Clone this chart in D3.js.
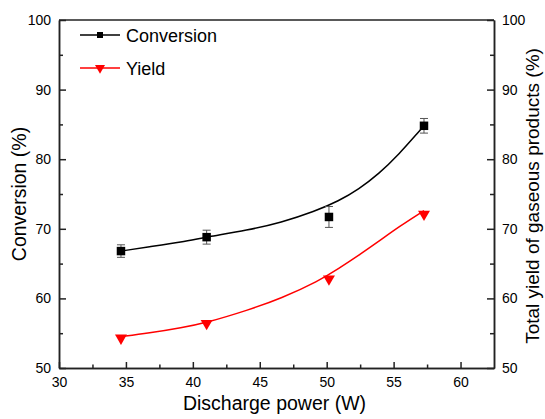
<html lang="en">
<head>
  <meta http-equiv="Content-Type" content="text/html; charset=utf-8" />
  <script src="https://cdn.jsdelivr.net/npm/d3@7"></script>
  <style>
    body { margin: 0; background: #fff; }
    text { font-family: "Liberation Sans", Arial, sans-serif; fill: #000; }
  </style>
</head>
<body>
  <div id="chart"></div>
  <script>
    'use strict';
    // measured points
    const power = [34.63, 41.03, 50.17, 57.27];
    const conversion = [66.8, 68.8, 71.7, 84.8];
    const conversionErr = [0.9, 1.0, 1.5, 1.05];
    const yieldGas = [54.3, 56.4, 62.8, 72.1];

    // fitted curves
    const convFitX = [34.63, 36.7, 39.2, 41.0, 44.1, 46.6, 49.1, 50.9, 52.4, 53.9, 55.4, 56.9, 57.27];
    const convFitY = [66.8, 67.4, 68.1, 68.8, 69.8, 70.9, 72.5, 74.0, 75.7, 77.9, 80.7, 84.0, 84.8];
    const yieldFitX = [34.63, 36.7, 39.2, 41.0, 44.1, 46.6, 49.4, 50.9, 52.4, 53.9, 55.4, 57.27];
    const yieldFitY = [54.5, 55.0, 55.8, 56.5, 58.3, 60.0, 62.5, 64.3, 66.2, 68.2, 70.3, 72.6];

    const xMajor = [30, 35, 40, 45, 50, 55, 60];
    const xMinor = [32.5, 37.5, 42.5, 47.5, 52.5, 57.5];
    const yMajor = [50, 60, 70, 80, 90, 100];
    const yMinor = [55, 65, 75, 85, 95];

    const width = 545;
    const height = 419;
    const margin = {left: 59, right: 51, top: 20, bottom: 51};
    const fontSizeTick = 14;
    const fontSizeTitle = 19.5;
    const fontSizeLegend = 18;
    const axisColor = "#222";
    const red = "#ff0000";

    const svg = d3.select("#chart")
      .append("svg")
      .attr("width", width)
      .attr("height", height);

    const x = d3.scaleLinear().domain([30, 62.5]).range([margin.left, width - margin.right]);
    const y = d3.scaleLinear().domain([50, 100]).range([height - margin.bottom, margin.top]);
    const y2 = d3.scaleLinear().domain([50, 100]).range([height - margin.bottom, margin.top]);

    const styleAxis = g => {
      g.selectAll("path, line").attr("stroke", axisColor).attr("stroke-width", 1.5);
      g.selectAll("text").style("font-size", fontSizeTick + "px").attr("fill", "#000");
    };

    // frame (top edge)
    svg.append("line")
      .attr("x1", x.range()[0]).attr("x2", x.range()[1])
      .attr("y1", y.range()[1]).attr("y2", y.range()[1])
      .attr("stroke", axisColor).attr("stroke-width", 1.5);

    // bottom axis
    svg.append("g")
      .attr("transform", `translate(0, ${y.range()[0]})`)
      .call(d3.axisBottom(x).tickValues(xMajor).tickSize(-6).tickSizeOuter(0).tickPadding(9))
      .call(styleAxis);
    svg.append("g")
      .attr("transform", `translate(0, ${y.range()[0]})`)
      .call(d3.axisBottom(x).tickValues(xMinor).tickSize(-3.5).tickSizeOuter(0).tickFormat(""))
      .call(styleAxis);

    // left axis
    svg.append("g")
      .attr("transform", `translate(${x.range()[0]}, 0)`)
      .call(d3.axisLeft(y).tickValues(yMajor).tickSize(-7).tickSizeOuter(0).tickPadding(8))
      .call(styleAxis);
    svg.append("g")
      .attr("transform", `translate(${x.range()[0]}, 0)`)
      .call(d3.axisLeft(y).tickValues(yMinor).tickSize(-4).tickSizeOuter(0).tickFormat(""))
      .call(styleAxis);

    // right axis
    svg.append("g")
      .attr("transform", `translate(${x.range()[1]}, 0)`)
      .call(d3.axisRight(y2).tickValues(yMajor).tickSize(-7).tickSizeOuter(0).tickPadding(8))
      .call(styleAxis);
    svg.append("g")
      .attr("transform", `translate(${x.range()[1]}, 0)`)
      .call(d3.axisRight(y2).tickValues(yMinor).tickSize(-4).tickSizeOuter(0).tickFormat(""))
      .call(styleAxis);

    // axis titles
    const midY = (y.range()[0] + y.range()[1]) / 2;
    svg.append("text")
      .attr("transform", `translate(26, ${midY}) rotate(-90)`)
      .attr("text-anchor", "middle")
      .style("font-size", fontSizeTitle + "px")
      .text("Conversion (%)");
    svg.append("text")
      .attr("transform", `translate(539, ${midY + 2}) rotate(-90)`)
      .attr("text-anchor", "middle")
      .style("font-size", "19px")
      .text("Total yield of gaseous products (%)");
    svg.append("text")
      .attr("x", (x.range()[0] + x.range()[1]) / 2 - 2)
      .attr("y", 410)
      .attr("text-anchor", "middle")
      .style("font-size", fontSizeTitle + "px")
      .text("Discharge power (W)");

    // fit curves
    const line = d3.line().curve(d3.curveBasis);
    svg.append("path")
      .attr("d", line(convFitX.map((v, i) => [x(v), y(convFitY[i])])))
      .attr("fill", "none").attr("stroke", "#000").attr("stroke-width", 1.5);
    svg.append("path")
      .attr("d", line(yieldFitX.map((v, i) => [x(v), y2(yieldFitY[i])])))
      .attr("fill", "none").attr("stroke", red).attr("stroke-width", 1.5);

    // error bars
    const capW = 4;
    power.forEach((p, i) => {
      const cx = x(p);
      const yTop = y(conversion[i] + conversionErr[i]);
      const yBot = y(conversion[i] - conversionErr[i]);
      const g = svg.append("g").attr("stroke", "#555").attr("stroke-width", 1);
      g.append("line").attr("x1", cx).attr("x2", cx).attr("y1", yTop).attr("y2", yBot);
      g.append("line").attr("x1", cx - capW).attr("x2", cx + capW).attr("y1", yTop).attr("y2", yTop);
      g.append("line").attr("x1", cx - capW).attr("x2", cx + capW).attr("y1", yBot).attr("y2", yBot);
    });

    // markers
    const square = d3.symbol().type(d3.symbolSquare).size(72);
    const triangle = d3.symbol().type(d3.symbolTriangle).size(62);
    svg.selectAll(".conv")
      .data(power)
      .join("path")
      .attr("class", "conv")
      .attr("d", square)
      .attr("transform", (d, i) => `translate(${x(d)}, ${y(conversion[i])})`)
      .attr("fill", "#000");
    svg.selectAll(".yield")
      .data(power)
      .join("path")
      .attr("class", "yield")
      .attr("d", triangle)
      .attr("transform", (d, i) => `translate(${x(d)}, ${y2(yieldGas[i])}) rotate(180)`)
      .attr("fill", red);

    // legend
    const legend = [
      {label: "Conversion", color: "#000", symbol: d3.symbol().type(d3.symbolSquare).size(36), rot: 0, y: 35},
      {label: "Yield", color: red, symbol: d3.symbol().type(d3.symbolTriangle).size(44), rot: 180, y: 68}
    ];
    legend.forEach(l => {
      svg.append("line")
        .attr("x1", 80).attr("x2", 120).attr("y1", l.y).attr("y2", l.y)
        .attr("stroke", l.color).attr("stroke-width", 1.5);
      svg.append("path")
        .attr("d", l.symbol())
        .attr("transform", `translate(100, ${l.y}) rotate(${l.rot})`)
        .attr("fill", l.color);
      svg.append("text")
        .attr("x", 126)
        .attr("y", l.y + 6.5)
        .style("font-size", fontSizeLegend + "px")
        .text(l.label);
    });
  </script>
</body>
</html>
